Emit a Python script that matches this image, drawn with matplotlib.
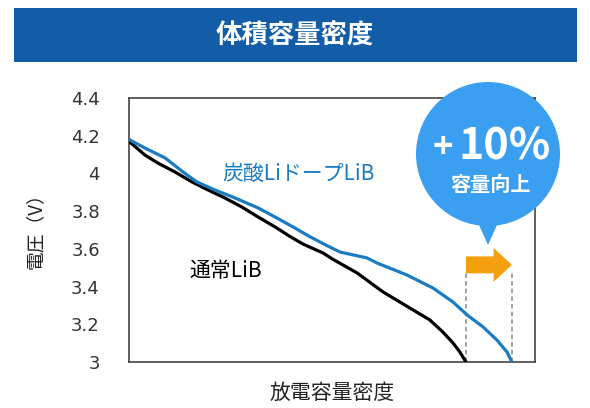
import matplotlib.pyplot as plt
from matplotlib.patches import Rectangle, Ellipse, Polygon

plt.rcParams['font.family'] = ['Noto Sans CJK JP', 'DejaVu Sans']

# データ (放電容量密度は相対値 0-100)
normal_x = [0, 3.9, 7.1, 11.3, 15.5, 19.5, 23.6, 27.8, 31.8, 36.0, 39.7, 42.9, 47.8, 50.2,
            56.2, 62.6, 69.2, 74.1, 77.3, 79.8, 81.5, 83.0]
normal_v = [4.17, 4.098, 4.055, 4.008, 3.955, 3.912, 3.870, 3.822, 3.769, 3.716, 3.665, 3.625,
            3.578, 3.545, 3.472, 3.371, 3.286, 3.223, 3.159, 3.101, 3.053, 3.0]
doped_x = [0, 3.9, 8.9, 13.3, 16.7, 21.2, 26.1, 31.8, 37.0, 40.5, 44.6, 48.5, 52.0, 58.6,
           61.1, 68.5, 74.9, 79.8, 83.3, 87.2, 90.6, 93.1, 94.3]
doped_v = [4.18, 4.135, 4.082, 4.008, 3.955, 3.912, 3.870, 3.817, 3.757, 3.715, 3.664, 3.620,
           3.583, 3.552, 3.525, 3.461, 3.392, 3.318, 3.249, 3.186, 3.117, 3.053, 3.0]
yticks = [3, 3.2, 3.4, 3.6, 3.8, 4, 4.2, 4.4]
ytick_labels = ['3', '3.2', '3.4', '3.6', '3.8', '4', '4.2', '4.4']

fig = plt.figure(figsize=(5.9, 4.08), dpi=100)

# タイトルバナー
fig.patches.append(Rectangle((14 / 590, 1 - 62 / 408), 563 / 590, 54 / 408,
                             transform=fig.transFigure, facecolor='#135da8', edgecolor='none'))
fig.text(295 / 590, 1 - 36 / 408, '体積容量密度', color='white', fontsize=19,
         fontweight='bold', ha='center', va='center')

ax = fig.add_axes([129 / 590, 46 / 408, 406 / 590, 264 / 408])
ax.plot(normal_x, normal_v, color='black', lw=2.3, zorder=3, solid_joinstyle='round')
ax.plot(doped_x, doped_v, color='#1b7bc2', lw=2.3, zorder=4, solid_joinstyle='round')
ax.set_xlim(0, 100)
ax.set_ylim(3, 4.4)
ax.set_xticks([])
ax.set_yticks(yticks)
ax.set_yticklabels(ytick_labels, family='DejaVu Sans')
ax.tick_params(axis='y', length=0, pad=21, labelsize=13, labelcolor='#333333')
for s in ax.spines.values():
    s.set_color('#444444')
    s.set_linewidth(1.2)

ax.set_xlabel('放電容量密度', fontsize=15, labelpad=14, color='#222222')
fig.text(35 / 590, 1 - 226 / 408, '電圧（V）', rotation=90, fontsize=13.5,
         ha='center', va='center', color='#222222')

ax.text(23, 4.0, '炭酸LiドープLiB', color='#1b7bc2', fontsize=15, va='center')
ax.text(15, 3.48, '通常LiB', color='black', fontsize=15, va='center')

# 容量差の破線と矢印
x0 = normal_x[-1]
x1 = doped_x[-1]
ax.vlines([x0, x1], 3, 3.47, colors='#888888', linestyles=(0, (3, 2)), lw=1.1, zorder=2)
ya = 3.515
body = 0.045
head = 0.09
hl = 4.5
ax.add_patch(Polygon([(x0, ya - body), (x1 - hl, ya - body), (x1 - hl, ya - head), (x1, ya),
                      (x1 - hl, ya + head), (x1 - hl, ya + body), (x0, ya + body)],
                     closed=True, facecolor='#f4a00e', edgecolor='none', zorder=5))

# 吹き出し
bx, by, r = 488 / 590, 1 - 154 / 408, 72
fig.patches.append(Ellipse((bx, by), 2 * r / 590, 2 * r / 408, transform=fig.transFigure,
                           facecolor='#3a9ff0', edgecolor='none', zorder=10))
fig.patches.append(Polygon([(bx - 13 / 590, by - 62 / 408), (bx + 13 / 590, by - 62 / 408),
                            (bx, 1 - 245 / 408)], closed=True, transform=fig.transFigure,
                           facecolor='#3a9ff0', edgecolor='none', zorder=10))
fig.text(443 / 590, 1 - 148 / 408, '+', color='white', fontsize=25,
         fontweight='bold', ha='center', va='center', zorder=11)
fig.text(505 / 590, 1 - 146 / 408, '10%', color='white', fontsize=31,
         fontweight='bold', ha='center', va='center', zorder=11)
fig.text(bx + 2 / 590, 1 - 184 / 408, '容量向上', color='white', fontsize=14.5,
         fontweight='bold', ha='center', va='center', zorder=11)

fig.savefig('out.png', dpi=100)
